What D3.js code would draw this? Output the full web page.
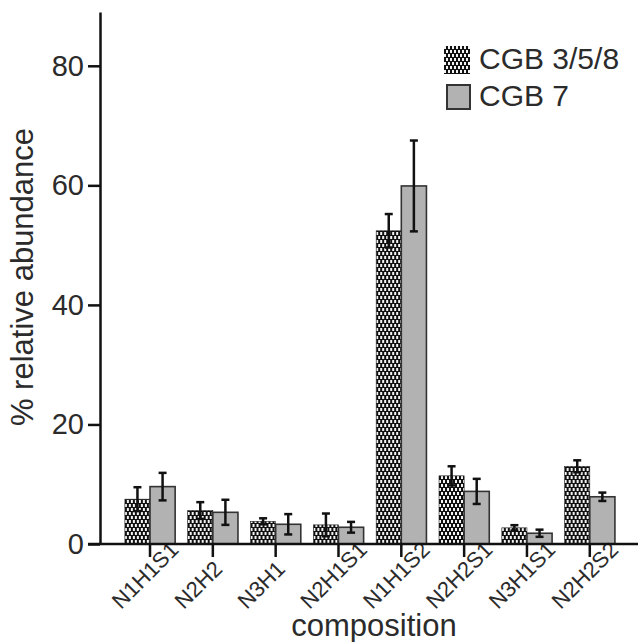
<!DOCTYPE html>
<html>
<head>
<meta charset="utf-8">
<script src="https://cdn.jsdelivr.net/npm/d3@7"></script>
<style>
  body { margin: 0; background: #fff; }
  text { font-family: "Liberation Sans", Arial, sans-serif; fill: #2b2b2b; }
</style>
</head>
<body>
<div id="chart"></div>
<script>
// composition categories and the two series (% relative abundance, mean +/- error)
var categories = ["N1H1S1", "N2H2", "N3H1", "N2H1S1", "N1H1S2", "N2H2S1", "N3H1S1", "N2H2S2"];
var seriesNames = ["CGB 3/5/8", "CGB 7"];
var cgb358 = [7.5, 5.6, 3.8, 3.2, 52.4, 11.4, 2.7, 13.0];
var cgb358Err = [2.0, 1.4, 0.5, 1.9, 2.8, 1.6, 0.45, 1.0];
var cgb7 = [9.6, 5.3, 3.3, 2.8, 59.9, 8.8, 1.8, 7.9];
var cgb7Err = [2.3, 2.1, 1.7, 0.9, 7.6, 2.1, 0.6, 0.7];
var yTicks = [0, 20, 40, 60, 80];

var w = 638, h = 642;

var svg = d3.select("#chart").append("svg")
  .attr("width", w)
  .attr("height", h);

// brick-like checker pattern for the first series
var defs = svg.append("defs");
var pat = defs.append("pattern")
  .attr("id", "checker")
  .attr("patternUnits", "userSpaceOnUse")
  .attr("width", 4)
  .attr("height", 8);
pat.append("rect").attr("width", 4).attr("height", 8).attr("fill", "#111");
pat.append("rect").attr("x", 0).attr("y", 0).attr("width", 2).attr("height", 3).attr("fill", "#f4f4f4");
pat.append("rect").attr("x", 2).attr("y", 4).attr("width", 2).attr("height", 3).attr("fill", "#f4f4f4");

var fills = ["url(#checker)", "#b2b2b2"];

var y = d3.scaleLinear().domain([0, 89]).range([544, 12]);

var x0 = d3.scaleBand()
  .domain(categories)
  .range([118.6, 621.2])
  .paddingInner(0.2)
  .paddingOuter(0.1);

var x1 = d3.scaleBand()
  .domain(seriesNames)
  .range([0, x0.bandwidth()]);

var rows = categories.map(function(c, i) {
  return [
    { cat: c, s: seriesNames[0], v: cgb358[i], e: cgb358Err[i] },
    { cat: c, s: seriesNames[1], v: cgb7[i], e: cgb7Err[i] }
  ];
});

var groups = svg.selectAll("g.grp")
  .data(rows)
  .enter()
  .append("g")
  .attr("class", "grp")
  .attr("transform", function(d) { return "translate(" + x0(d[0].cat) + ",0)"; });

groups.selectAll("rect")
  .data(function(d) { return d; })
  .enter()
  .append("rect")
  .attr("x", function(d) { return x1(d.s); })
  .attr("y", function(d) { return y(d.v); })
  .attr("width", x1.bandwidth())
  .attr("height", function(d) { return y(0) - y(d.v); })
  .attr("fill", function(d, i) { return fills[i]; })
  .attr("stroke", function(d, i) { return i ? "#333" : "#222"; })
  .attr("stroke-width", function(d, i) { return i ? 1.6 : 0.6; });

// error bars
var eb = groups.selectAll("g.err")
  .data(function(d) { return d; })
  .enter()
  .append("g")
  .attr("class", "err")
  .attr("transform", function(d) { return "translate(" + (x1(d.s) + x1.bandwidth() / 2) + ",0)"; })
  .attr("stroke", "#111")
  .attr("stroke-width", 2.5);
eb.append("line")
  .attr("y1", function(d) { return y(d.v + d.e); })
  .attr("y2", function(d) { return y(Math.max(0, d.v - d.e)); });
eb.append("line")
  .attr("x1", -4).attr("x2", 4)
  .attr("y1", function(d) { return y(d.v + d.e); })
  .attr("y2", function(d) { return y(d.v + d.e); });
eb.append("line")
  .attr("x1", -4).attr("x2", 4)
  .attr("y1", function(d) { return y(Math.max(0, d.v - d.e)); })
  .attr("y2", function(d) { return y(Math.max(0, d.v - d.e)); });

// y axis
var yAxis = svg.append("g")
  .attr("transform", "translate(100,0)")
  .call(d3.axisLeft(y).tickValues(yTicks).tickSize(12).tickSizeOuter(0).tickPadding(4));
yAxis.select(".domain").attr("stroke", "#111").attr("stroke-width", 2.5);
yAxis.selectAll(".tick line").attr("stroke", "#111").attr("stroke-width", 2.5);
yAxis.selectAll(".tick text")
  .attr("font-size", "29px")
  .attr("fill", "#2b2b2b")
  .style("font-family", "'Liberation Sans', Arial, sans-serif");

// x axis
var xAxis = svg.append("g")
  .attr("transform", "translate(0,544)")
  .call(d3.axisBottom(x0).tickSize(13).tickSizeOuter(0));
xAxis.select(".domain").remove();
xAxis.append("line")
  .attr("x1", 88).attr("x2", 638)
  .attr("stroke", "#111").attr("stroke-width", 2.5);
xAxis.selectAll(".tick line").attr("stroke", "#111").attr("stroke-width", 2.5);
xAxis.selectAll(".tick text")
  .attr("x", 0).attr("y", 0).attr("dy", 0)
  .attr("text-anchor", "start")
  .attr("transform", "translate(-29,66) rotate(-45)")
  .attr("font-size", "22px")
  .attr("fill", "#2b2b2b")
  .style("font-family", "'Liberation Sans', Arial, sans-serif");

// axis titles
svg.append("text")
  .attr("transform", "translate(33,277) rotate(-90)")
  .attr("text-anchor", "middle")
  .attr("font-size", "31px")
  .text("% relative abundance");

svg.append("text")
  .attr("x", 374)
  .attr("y", 636)
  .attr("text-anchor", "middle")
  .attr("font-size", "31px")
  .text("composition");

// legend
var leg = svg.append("g").attr("transform", "translate(444,46)");
var li = leg.selectAll("g")
  .data(seriesNames)
  .enter()
  .append("g")
  .attr("transform", function(d, i) { return "translate(0," + (i * 37) + ")"; });
li.append("rect")
  .attr("x", function(d, i) { return i ? 3 : 0; })
  .attr("y", function(d, i) { return i ? 2 : 0; })
  .attr("width", function(d, i) { return i ? 23 : 26; })
  .attr("height", function(d, i) { return i ? 24 : 28; })
  .attr("fill", function(d, i) { return fills[i]; })
  .attr("stroke", function(d, i) { return i ? "#333" : "none"; })
  .attr("stroke-width", 2);
li.append("text")
  .attr("x", 35)
  .attr("y", 23)
  .attr("font-size", "30px")
  .text(function(d) { return d; });
</script>
</body>
</html>
